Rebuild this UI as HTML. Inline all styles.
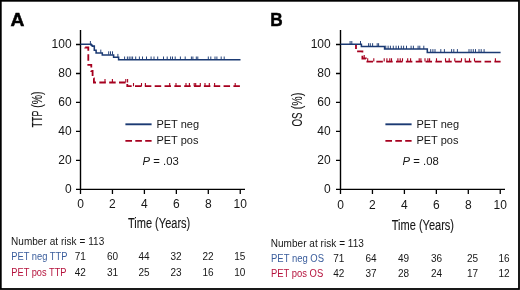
<!DOCTYPE html>
<html><head><meta charset="utf-8"><style>
html,body{margin:0;padding:0;background:#fff;}
#wrap{position:relative;width:520px;height:290px;overflow:hidden;background:#fff;}
svg{position:absolute;left:0;top:0;will-change:transform;font-family:"Liberation Sans",sans-serif;fill:#161616;}

</style></head><body><div id="wrap">
<svg width="520" height="290" viewBox="0 0 520 290">
<rect x="0.8" y="0.8" width="518.2" height="288.2" fill="none" stroke="#000" stroke-width="1.8"/>
<text transform="translate(10.5 25.8) scale(1.04 1)" font-weight="bold" font-size="18.5" stroke="#000" stroke-width="0.5" fill="#000">A</text>
<path d="M80.5 30 V190.1 M79.8 189.4 H245" stroke="#000" stroke-width="1.4" fill="none"/>
<path d="M76 44.50H80.5M76 73.48H80.5M76 102.46H80.5M76 131.44H80.5M76 160.42H80.5M76 189.40H80.5M80.50 189.4V194M112.45 189.4V194M144.40 189.4V194M176.35 189.4V194M208.30 189.4V194M240.25 189.4V194" stroke="#000" stroke-width="1.3" fill="none"/>
<text x="71.6" y="48.20" text-anchor="end" font-size="12">100</text>
<text x="71.6" y="77.18" text-anchor="end" font-size="12">80</text>
<text x="71.6" y="106.16" text-anchor="end" font-size="12">60</text>
<text x="71.6" y="135.14" text-anchor="end" font-size="12">40</text>
<text x="71.6" y="164.12" text-anchor="end" font-size="12">20</text>
<text x="71.6" y="193.10" text-anchor="end" font-size="12">0</text>
<text x="80.50" y="207.5" text-anchor="middle" font-size="12">0</text>
<text x="112.45" y="207.5" text-anchor="middle" font-size="12">2</text>
<text x="144.40" y="207.5" text-anchor="middle" font-size="12">4</text>
<text x="176.35" y="207.5" text-anchor="middle" font-size="12">6</text>
<text x="208.30" y="207.5" text-anchor="middle" font-size="12">8</text>
<text x="240.25" y="207.5" text-anchor="middle" font-size="12">10</text>
<text transform="translate(159.1 227.9) scale(0.735 1)" text-anchor="middle" font-size="15" stroke="#161616" stroke-width="0.12">Time (Years)</text>
<text transform="translate(42.3 119.0) rotate(-90) scale(0.6 1)" text-anchor="middle" font-size="15" stroke="#161616" stroke-width="0.12">TTP</text>
<text transform="translate(42.3 99.65) rotate(-90) scale(0.7 1)" text-anchor="middle" font-size="15" stroke="#161616" stroke-width="0.12">(%)</text>
<path d="M125.4 124.3H151.6" stroke="#1b3a73" stroke-width="1.9"/>
<path d="M125.4 140.9H151.6" stroke="#a6001f" stroke-width="1.9" stroke-dasharray="6.6 3.3"/>
<text x="156.4" y="127.8" font-size="11">PET neg</text>
<text x="156.4" y="144.2" font-size="11">PET pos</text>
<text x="142.6" y="165.4" font-size="11.3"><tspan font-style="italic">P</tspan> = .03</text>
<path d="M85.2 44.3V47.5H88.3V64.8H91.3V71H92.6V78.3H93.9V82.5H127.3V86.2H240.5" stroke="#a6001f" stroke-width="1.8" fill="none" stroke-dasharray="6.5 3.34" stroke-dashoffset="6.7"/>
<path d="M105 82.5V79.1M112.4 82.5V79.1M125.8 82.5V79.1M127.6 82.5V79.1M133.5 86.3V82.9M141.5 86.3V82.9M145.4 86.3V82.9M169.7 86.3V82.9M176 86.3V82.9M186 86.3V82.9M189.4 86.3V82.9M194.2 86.3V82.9M195.7 86.3V82.9M200.3 86.3V82.9M205 86.3V82.9M209.3 86.3V82.9M214.6 86.3V82.9M235.2 86.3V82.9" stroke="#a6001f" stroke-width="1.1" fill="none"/>
<path d="M80.5 44.3H91.2V45.2H92.3V46.1H94.3V50.2H96.1V52.9H102.3V55H113.6V57.2H118.6V59.8H240.5" stroke="#1b3a73" stroke-width="1.55" fill="none"/>
<path d="M90.4 44.3V41.0M100.8 52.9V49.6M108.7 54.6V51.3M110.5 54.6V51.3M112.5 54.6V51.3M117.9 57.2V53.9M124.6 59.8V56.5M127.4 59.8V56.5M129.2 59.8V56.5M131 59.8V56.5M132.6 59.8V56.5M135.7 59.8V56.5M139.4 59.8V56.5M142.5 59.8V56.5M146.5 59.8V56.5M151.1 59.8V56.5M154 59.8V56.5M157.7 59.8V56.5M163.5 59.8V56.5M167.2 59.8V56.5M170.6 59.8V56.5M172.5 59.8V56.5M175.2 59.8V56.5M180.4 59.8V56.5M185.2 59.8V56.5M191.4 59.8V56.5M192.9 59.8V56.5M196.3 59.8V56.5M197.8 59.8V56.5M208.3 59.8V56.5M210.8 59.8V56.5M215 59.8V56.5M216.9 59.8V56.5M221.2 59.8V56.5M224.2 59.8V56.5" stroke="#1b3a73" stroke-width="0.95" fill="none"/>
<text x="11.0" y="244.9" font-size="10" textLength="93.2" lengthAdjust="spacing">Number at risk = 113</text>
<text x="11.3" y="260.2" font-size="10" fill="#3a5d9c" textLength="56.2" lengthAdjust="spacingAndGlyphs">PET neg TTP</text>
<text x="11.3" y="275.6" font-size="10" fill="#b5123c" textLength="55.2" lengthAdjust="spacingAndGlyphs">PET pos TTP</text>
<text x="80.2" y="260.2" font-size="10" text-anchor="middle">71</text>
<text x="80.2" y="275.6" font-size="10" text-anchor="middle">42</text>
<text x="112.5" y="260.2" font-size="10" text-anchor="middle">60</text>
<text x="112.5" y="275.6" font-size="10" text-anchor="middle">31</text>
<text x="144" y="260.2" font-size="10" text-anchor="middle">44</text>
<text x="144" y="275.6" font-size="10" text-anchor="middle">25</text>
<text x="176" y="260.2" font-size="10" text-anchor="middle">32</text>
<text x="176" y="275.6" font-size="10" text-anchor="middle">23</text>
<text x="208.1" y="260.2" font-size="10" text-anchor="middle">22</text>
<text x="208.1" y="275.6" font-size="10" text-anchor="middle">16</text>
<text x="239.8" y="260.2" font-size="10" text-anchor="middle">15</text>
<text x="239.8" y="275.6" font-size="10" text-anchor="middle">10</text>
<text transform="translate(270.2 25.8) scale(0.93 1)" font-weight="bold" font-size="18.5" stroke="#000" stroke-width="0.5" fill="#000">B</text>
<path d="M340.5 30 V190.1 M339.8 189.4 H505" stroke="#000" stroke-width="1.4" fill="none"/>
<path d="M336 44.50H340.5M336 73.48H340.5M336 102.46H340.5M336 131.44H340.5M336 160.42H340.5M336 189.40H340.5M340.50 189.4V194M372.45 189.4V194M404.40 189.4V194M436.35 189.4V194M468.30 189.4V194M500.25 189.4V194" stroke="#000" stroke-width="1.3" fill="none"/>
<text x="330.70000000000005" y="48.20" text-anchor="end" font-size="12">100</text>
<text x="330.70000000000005" y="77.18" text-anchor="end" font-size="12">80</text>
<text x="330.70000000000005" y="106.16" text-anchor="end" font-size="12">60</text>
<text x="330.70000000000005" y="135.14" text-anchor="end" font-size="12">40</text>
<text x="330.70000000000005" y="164.12" text-anchor="end" font-size="12">20</text>
<text x="330.70000000000005" y="193.10" text-anchor="end" font-size="12">0</text>
<text x="340.50" y="209.2" text-anchor="middle" font-size="12">0</text>
<text x="372.45" y="209.2" text-anchor="middle" font-size="12">2</text>
<text x="404.40" y="209.2" text-anchor="middle" font-size="12">4</text>
<text x="436.35" y="209.2" text-anchor="middle" font-size="12">6</text>
<text x="468.30" y="209.2" text-anchor="middle" font-size="12">8</text>
<text x="500.25" y="209.2" text-anchor="middle" font-size="12">10</text>
<text transform="translate(422.9 229.6) scale(0.735 1)" text-anchor="middle" font-size="15" stroke="#161616" stroke-width="0.12">Time (Years)</text>
<text transform="translate(302.2 119.45) rotate(-90) scale(0.65 1)" text-anchor="middle" font-size="15" stroke="#161616" stroke-width="0.12">OS</text>
<text transform="translate(302.2 101.0) rotate(-90) scale(0.71 1)" text-anchor="middle" font-size="15" stroke="#161616" stroke-width="0.12">(%)</text>
<path d="M385.4 124.3H411.6" stroke="#1b3a73" stroke-width="1.9"/>
<path d="M385.4 140.9H411.6" stroke="#a6001f" stroke-width="1.9" stroke-dasharray="6.6 3.3"/>
<text x="416.4" y="127.8" font-size="11">PET neg</text>
<text x="416.4" y="144.2" font-size="11">PET pos</text>
<text x="402.6" y="165.4" font-size="11.3"><tspan font-style="italic">P</tspan> = .08</text>
<path d="M356 44.3V51.3H362.4V58.5H365.9V61.6H500.6" stroke="#a6001f" stroke-width="1.8" fill="none" stroke-dasharray="6.5 3.34" stroke-dashoffset="1.72"/>
<path d="M364.2 58.5V55.1M367.7 61.6V58.2M373.8 61.6V58.2M384.2 61.6V58.2M386.9 61.6V58.2M389.8 61.6V58.2M391.5 61.6V58.2M397.9 61.6V58.2M400.2 61.6V58.2M402.5 61.6V58.2M407.7 61.6V58.2M410.6 61.6V58.2M419.2 61.6V58.2M420.9 61.6V58.2M425 61.6V58.2M427.9 61.6V58.2M429.6 61.6V58.2M436.5 61.6V58.2M445.5 61.6V58.2M449.2 61.6V58.2M454.8 61.6V58.2M461.5 61.6V58.2M465.2 61.6V58.2M469.5 61.6V58.2M474.5 61.6V58.2M495.4 61.6V58.2" stroke="#a6001f" stroke-width="1.1" fill="none"/>
<path d="M340.5 44.3H361.4V46.5H384.6V49H427.3V52.4H500.6" stroke="#1b3a73" stroke-width="1.55" fill="none"/>
<path d="M350.1 44.3V41.0M351.8 44.3V41.0M360.5 44.3V41.0M368.6 46.5V43.2M370.3 46.5V43.2M372.6 46.5V43.2M377.2 46.5V43.2M378.6 46.5V43.2M385.8 49V45.7M388.1 49V45.7M390.4 49V45.7M393.3 49V45.7M396.1 49V45.7M398.5 49V45.7M401.3 49V45.7M403.6 49V45.7M406.5 49V45.7M411.1 49V45.7M413.4 49V45.7M418.1 49V45.7M419.8 49V45.7M423.8 49V45.7M430.7 52.4V49.1M432.9 52.4V49.1M435 52.4V49.1M440.8 52.4V49.1M444.4 52.4V49.1M451.6 52.4V49.1M453.8 52.4V49.1M457.4 52.4V49.1M469 52.4V49.1M471.1 52.4V49.1M473.3 52.4V49.1M475.5 52.4V49.1M479 52.4V49.1M481.2 52.4V49.1M484.1 52.4V49.1" stroke="#1b3a73" stroke-width="0.95" fill="none"/>
<text x="270.7" y="246.6" font-size="10" textLength="93.2" lengthAdjust="spacing">Number at risk = 113</text>
<text x="271.0" y="261.9" font-size="10" fill="#3a5d9c" textLength="53" lengthAdjust="spacingAndGlyphs">PET neg OS</text>
<text x="271.0" y="277.3" font-size="10" fill="#b5123c" textLength="52.2" lengthAdjust="spacingAndGlyphs">PET pos OS</text>
<text x="338.8" y="261.9" font-size="10" text-anchor="middle">71</text>
<text x="338.8" y="277.3" font-size="10" text-anchor="middle">42</text>
<text x="371" y="261.9" font-size="10" text-anchor="middle">64</text>
<text x="371" y="277.3" font-size="10" text-anchor="middle">37</text>
<text x="403.6" y="261.9" font-size="10" text-anchor="middle">49</text>
<text x="403.6" y="277.3" font-size="10" text-anchor="middle">28</text>
<text x="436.6" y="261.9" font-size="10" text-anchor="middle">36</text>
<text x="436.6" y="277.3" font-size="10" text-anchor="middle">24</text>
<text x="472.6" y="261.9" font-size="10" text-anchor="middle">25</text>
<text x="472.6" y="277.3" font-size="10" text-anchor="middle">17</text>
<text x="504.1" y="261.9" font-size="10" text-anchor="middle">16</text>
<text x="504.1" y="277.3" font-size="10" text-anchor="middle">12</text>
</svg></div></body></html>
